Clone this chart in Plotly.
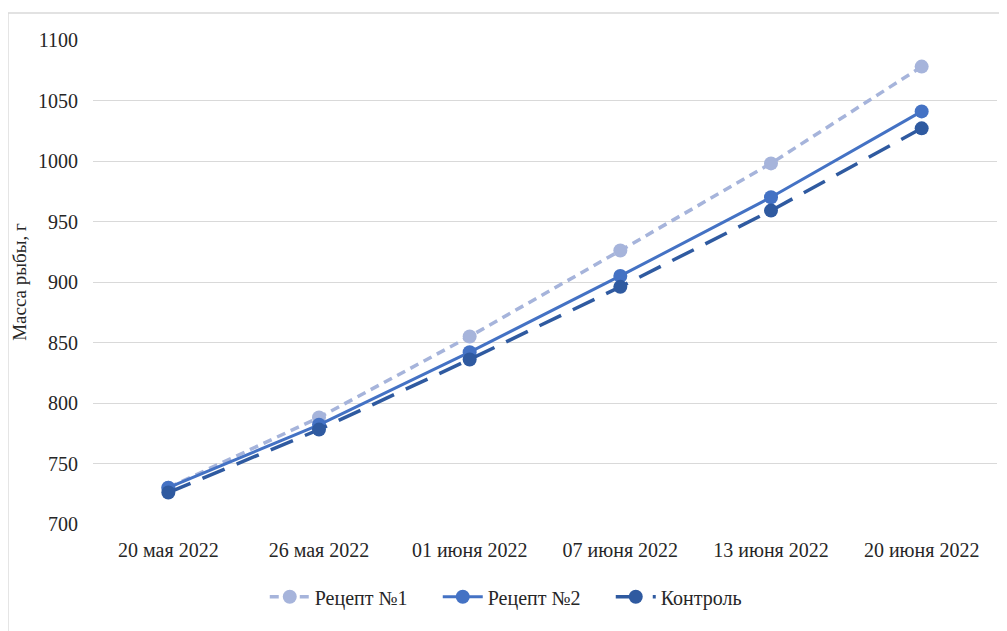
import plotly.graph_objects as go

categories = ["20 мая 2022", "26 мая 2022", "01 июня 2022", "07 июня 2022", "13 июня 2022", "20 июня 2022"]
recipe1 = [730, 788, 855, 926, 998, 1078]
recipe2 = [730, 782, 842, 905, 970, 1041]
control = [726, 778, 836, 896, 959, 1027]
y_ticks = [700, 750, 800, 850, 900, 950, 1000, 1050, 1100]

fig = go.Figure()
fig.add_trace(go.Scatter(x=categories, y=recipe1, name="Рецепт №1", mode="lines+markers",
                         line=dict(color="#A6B4DB", width=3.5, dash="9px,6px"),
                         marker=dict(size=14, color="#A6B4DB")))
fig.add_trace(go.Scatter(x=categories, y=recipe2, name="Рецепт №2", mode="lines+markers",
                         line=dict(color="#4472C4", width=3),
                         marker=dict(size=14, color="#4472C4")))
fig.add_trace(go.Scatter(x=categories, y=control, name="Контроль", mode="lines+markers",
                         line=dict(color="#2F5AA0", width=3.5, dash="24px,13px"),
                         marker=dict(size=14, color="#2F5AA0")))

font = "Times New Roman"
fig.update_layout(
    width=1007, height=631,
    paper_bgcolor="white", plot_bgcolor="white",
    margin=dict(l=85, r=18, t=32, b=115, autoexpand=False),
    font=dict(family=font, size=20, color="#262626"),
    showlegend=True,
    legend=dict(orientation="h", x=0.19, xanchor="left", y=-0.11, yanchor="top",
                font=dict(size=20, family="serif"), itemwidth=40, traceorder="normal",
                entrywidth=118),
    xaxis=dict(type="category", showgrid=False, showline=False, ticks="",
               tickfont=dict(size=20, family="Tinos, Liberation Serif, serif"), range=[-0.5, 5.5]),
    yaxis=dict(range=[700, 1100], tickvals=y_ticks, showgrid=True, gridcolor="#D9D9D9",
               gridwidth=1.3, zeroline=False, ticks="", tickfont=dict(size=20, family=font),
               title=dict(text="Масса рыбы, г", font=dict(size=19, family=font), standoff=6)),
    shapes=[dict(type="rect", xref="paper", yref="paper", x0=-0.094, x1=1.1, y0=-0.5, y1=1.0558,
                 line=dict(color="#D9D9D9", width=1.3), fillcolor="rgba(0,0,0,0)", layer="below")],
)
fig.update_yaxes(ticklabelstandoff=14)
fig.update_xaxes(ticklabelstandoff=12)

fig.write_html("out.html")
